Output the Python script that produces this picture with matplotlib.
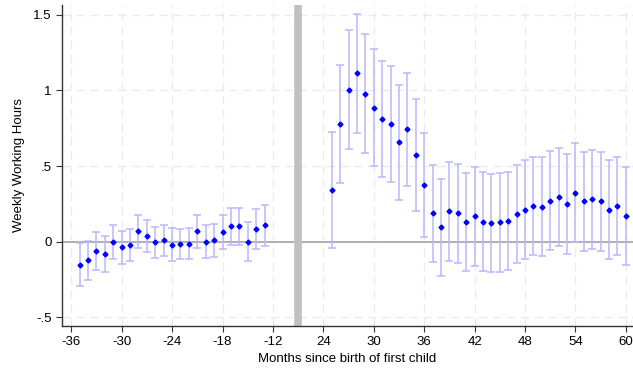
import numpy as np
import matplotlib
matplotlib.use('Agg')
from matplotlib import pyplot as plt

plt.rcParams['font.family'] = ['Liberation Sans', 'DejaVu Sans']

# months before birth (left block) and after birth (right block)
months_pre = list(range(-35, -12))
coef_pre = [-0.154, -0.121, -0.059, -0.081, -0.002, -0.037, -0.020, 0.068, 0.037, -0.004,
            0.009, -0.022, -0.018, -0.015, 0.068, 0.000, 0.011, 0.064, 0.104, 0.101,
            0.000, 0.084, 0.108]
hi_pre = [-0.011, 0.007, 0.066, 0.037, 0.112, 0.073, 0.086, 0.176, 0.141, 0.099,
          0.112, 0.088, 0.081, 0.088, 0.174, 0.108, 0.119, 0.176, 0.225, 0.225,
          0.128, 0.214, 0.244]
lo_pre = [-0.295, -0.251, -0.185, -0.198, -0.115, -0.150, -0.126, -0.044, -0.070, -0.106,
          -0.095, -0.130, -0.117, -0.117, -0.040, -0.108, -0.099, -0.051, -0.022, -0.024,
          -0.126, -0.048, -0.029]

months_post = list(range(25, 61))
coef_post = [0.339, 0.778, 1.004, 1.112, 0.978, 0.885, 0.813, 0.775, 0.656, 0.742,
             0.575, 0.374, 0.189, 0.095, 0.200, 0.187, 0.131, 0.167, 0.132, 0.121,
             0.128, 0.137, 0.183, 0.211, 0.233, 0.231, 0.271, 0.295, 0.249, 0.324,
             0.267, 0.280, 0.267, 0.211, 0.233, 0.167]
hi_post = [0.722, 1.170, 1.396, 1.507, 1.370, 1.273, 1.196, 1.159, 1.033, 1.112,
           0.943, 0.716, 0.509, 0.416, 0.524, 0.511, 0.456, 0.491, 0.458, 0.447,
           0.454, 0.463, 0.507, 0.537, 0.559, 0.559, 0.597, 0.621, 0.577, 0.650,
           0.590, 0.608, 0.595, 0.537, 0.559, 0.493]
lo_post = [-0.044, 0.388, 0.610, 0.718, 0.586, 0.498, 0.427, 0.394, 0.278, 0.370,
           0.205, 0.031, -0.132, -0.227, -0.126, -0.139, -0.192, -0.159, -0.192, -0.203,
           -0.200, -0.187, -0.141, -0.112, -0.090, -0.093, -0.057, -0.029, -0.079, -0.002,
           -0.059, -0.048, -0.059, -0.115, -0.090, -0.154]

x_labels = [-36, -30, -24, -18, -12, 24, 30, 36, 42, 48, 54, 60]
y_ticks = [-0.5, 0, 0.5, 1, 1.5]
y_labels = ['-.5', '0', '.5', '1', '1.5']

SHIFT = 30  # the post-birth block is drawn 30 months to the left


def main():
    fig = plt.figure(figsize=(6.33, 3.70), dpi=100)
    ax = fig.add_axes([62 / 633, 44 / 370, 571 / 633, 321 / 370])

    months = np.array(months_pre + [m - SHIFT for m in months_post])
    coef = np.array(coef_pre + coef_post)
    hi = np.array(hi_pre + hi_post)
    lo = np.array(lo_pre + lo_post)

    ax.set_xlim(-37.1, 30.85)
    ax.set_ylim(-0.557, 1.564)

    tick_pos = [m if m < 0 else m - SHIFT for m in x_labels]
    ax.set_xticks(tick_pos)
    ax.set_xticklabels([str(m) for m in x_labels])
    ax.set_yticks(y_ticks)
    ax.set_yticklabels(y_labels)

    ax.grid(True, color='#ebebeb', linestyle=(0, (6, 4)), linewidth=1.0)
    ax.set_axisbelow(True)

    ax.axhline(0, color='#b0b0b0', linewidth=1.4, zorder=1)
    ax.axvline(-9, color='#c0c0c0', linewidth=5.5, zorder=1)

    ax.errorbar(months, coef, yerr=[coef - lo, hi - coef], fmt='none',
                ecolor='#b8b8ff', elinewidth=1.1, capsize=3, capthick=1.1, zorder=2)
    ax.plot(months, coef, linestyle='none', marker='D', markersize=2.5,
            color='#0000ff', zorder=3)

    for side in ['top', 'right']:
        ax.spines[side].set_visible(False)
    for side in ['left', 'bottom']:
        ax.spines[side].set_color('#333333')
        ax.spines[side].set_linewidth(1.0)

    ax.tick_params(axis='both', labelsize=9.5, length=4, width=0.8, color='#333333')
    ax.set_xlabel('Months since birth of first child', fontsize=9.5, labelpad=3)
    ax.set_ylabel('Weekly Working Hours', fontsize=9.5, labelpad=6)

    fig.savefig('out.png', dpi=100)


if __name__ == '__main__':
    main()
